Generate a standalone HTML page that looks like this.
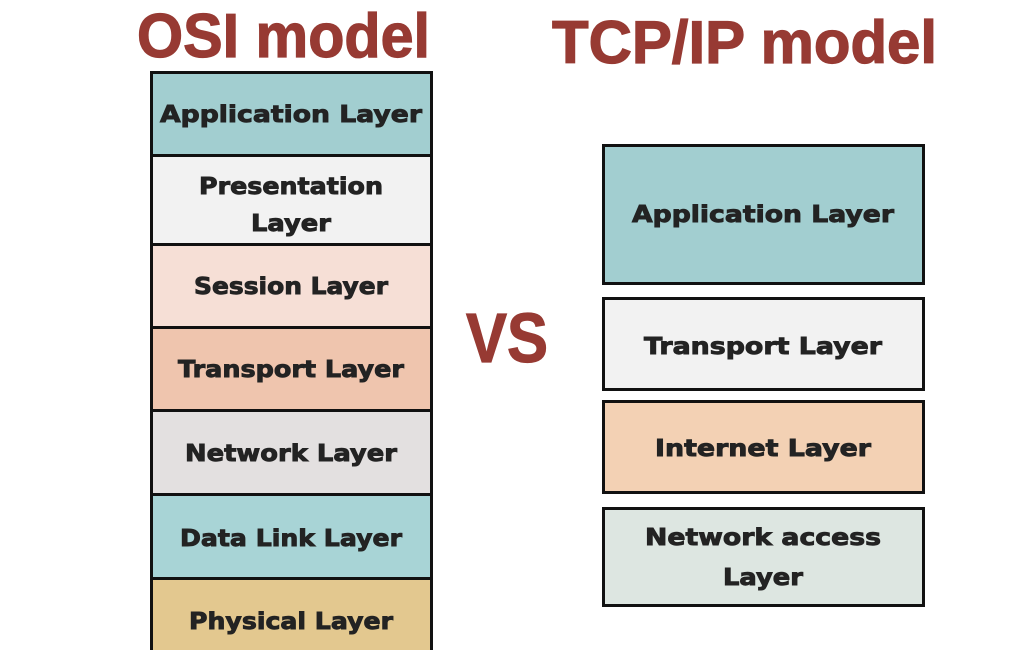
<!DOCTYPE html>
<html><head><meta charset="utf-8"><style>body{margin:0;background:#fff}svg{display:block}</style></head><body>
<svg width="1024" height="650" viewBox="0 0 1024 650" xmlns="http://www.w3.org/2000/svg">
<rect width="1024" height="650" fill="#fff"/>
<g font-family="Liberation Sans, sans-serif" font-weight="bold" fill="#973a33" stroke="#973a33" stroke-width="1.2">
<text x="137" y="57" font-size="62" textLength="293" lengthAdjust="spacingAndGlyphs">OSI model</text>
<text x="552" y="63" font-size="60" textLength="385" lengthAdjust="spacingAndGlyphs">TCP/IP model</text>
<text x="466" y="362" font-size="70" textLength="82" lengthAdjust="spacingAndGlyphs">VS</text>
</g>
<g stroke="#111" stroke-width="3">
<rect x="151.5" y="72.5" width="280" height="83" fill="#a2ced0"/>
<rect x="151.5" y="155.5" width="280" height="89" fill="#f2f2f2"/>
<rect x="151.5" y="244.5" width="280" height="83" fill="#f6dfd6"/>
<rect x="151.5" y="327.5" width="280" height="83" fill="#efc5ae"/>
<rect x="151.5" y="410.5" width="280" height="84" fill="#e3e0e0"/>
<rect x="151.5" y="494.5" width="280" height="84" fill="#a8d4d6"/>
<rect x="151.5" y="578.5" width="280" height="80" fill="#e3c88f"/>
<rect x="603.5" y="145.5" width="320" height="138" fill="#a2ced0"/>
<rect x="603.5" y="298.5" width="320" height="91" fill="#f2f2f2"/>
<rect x="603.5" y="401.5" width="320" height="91" fill="#f3d1b4"/>
<rect x="603.5" y="508.5" width="320" height="97" fill="#dde6e1"/>
</g>
<g font-family="DejaVu Sans, sans-serif" font-weight="bold" fill="#232323" stroke="#232323" stroke-width="0.9" font-size="23" text-anchor="middle">
<text x="291" y="122" textLength="262" lengthAdjust="spacingAndGlyphs">Application Layer</text>
<text x="291" y="194" textLength="184" lengthAdjust="spacingAndGlyphs">Presentation</text>
<text x="291" y="231" textLength="80" lengthAdjust="spacingAndGlyphs">Layer</text>
<text x="291" y="294" textLength="194" lengthAdjust="spacingAndGlyphs">Session Layer</text>
<text x="291" y="377" textLength="226" lengthAdjust="spacingAndGlyphs">Transport Layer</text>
<text x="291" y="461" textLength="212" lengthAdjust="spacingAndGlyphs">Network Layer</text>
<text x="291" y="546" textLength="222" lengthAdjust="spacingAndGlyphs">Data Link Layer</text>
<text x="291" y="629" textLength="204" lengthAdjust="spacingAndGlyphs">Physical Layer</text>
<text x="763" y="222" textLength="262" lengthAdjust="spacingAndGlyphs">Application Layer</text>
<text x="763" y="354" textLength="238" lengthAdjust="spacingAndGlyphs">Transport Layer</text>
<text x="763" y="456" textLength="216" lengthAdjust="spacingAndGlyphs">Internet Layer</text>
<text x="763" y="545" textLength="236" lengthAdjust="spacingAndGlyphs">Network access</text>
<text x="763" y="585" textLength="80" lengthAdjust="spacingAndGlyphs">Layer</text>
</g>
</svg>
</body></html>
